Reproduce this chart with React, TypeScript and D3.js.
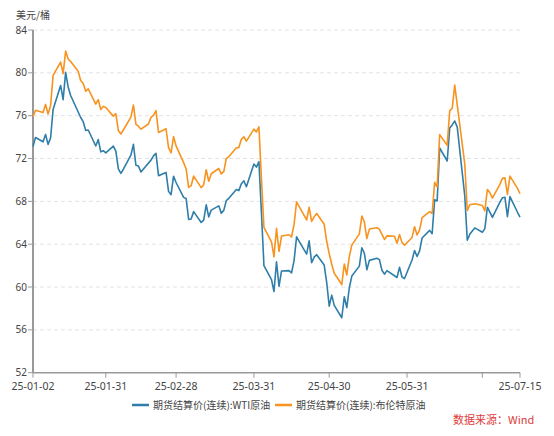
import { useEffect } from "react"
import * as d3 from "d3"

// trading days of 2025 (MM-DD)
const dates = [
  "01-02", "01-03", "01-06", "01-07", "01-08", "01-09", "01-10", "01-13", "01-14", "01-15", "01-16",
  "01-17", "01-20", "01-21", "01-22", "01-23", "01-24", "01-27", "01-28", "01-29", "01-30", "01-31",
  "02-03", "02-04", "02-05", "02-06", "02-07", "02-10", "02-11", "02-12", "02-13", "02-14", "02-17",
  "02-18", "02-19", "02-20", "02-21", "02-24", "02-25", "02-26", "02-27", "02-28",
  "03-03", "03-04", "03-05", "03-06", "03-07", "03-10", "03-11", "03-12", "03-13", "03-14", "03-17",
  "03-18", "03-19", "03-20", "03-21", "03-24", "03-25", "03-26", "03-27", "03-28", "03-31",
  "04-01", "04-02", "04-03", "04-04", "04-07", "04-08", "04-09", "04-10", "04-11", "04-14", "04-15",
  "04-16", "04-17", "04-21", "04-22", "04-23", "04-24", "04-25", "04-28", "04-29", "04-30",
  "05-01", "05-02", "05-05", "05-06", "05-07", "05-08", "05-09", "05-12", "05-13", "05-14", "05-15",
  "05-16", "05-19", "05-20", "05-21", "05-22", "05-23", "05-26", "05-27", "05-28", "05-29", "05-30",
  "06-02", "06-03", "06-04", "06-05", "06-06", "06-09", "06-10", "06-11", "06-12", "06-13", "06-16",
  "06-17", "06-18", "06-19", "06-20", "06-23", "06-24", "06-25", "06-26", "06-27", "06-30",
  "07-01", "07-02", "07-03", "07-04", "07-07", "07-08", "07-09", "07-10", "07-11", "07-14", "07-15",
]

const wti: (number | null)[] = [
  73.13, 73.96, 73.56, 74.25, 73.32, 73.92, 76.57, 78.82, 77.5, 80.04, 78.68,
  77.88, null, 75.83, 75.44, 74.62, 74.66, 73.17, 73.77, 72.62, 72.73, 72.53,
  73.16, 72.7, 71.03, 70.61, 71.0, 72.32, 73.32, 71.37, 71.29, 70.74, null,
  71.85, 72.25, 72.48, 70.4, 70.7, 68.93, 68.62, 70.35, 69.76,
  68.37, 68.26, 66.31, 66.36, 67.04, 66.03, 66.25, 67.68, 66.55, 67.18, 67.58,
  66.9, 67.16, 68.07, 68.28, 69.11, 69.0, 69.65, 69.92, 69.36, 71.48,
  71.2, 71.71, 66.95, 61.99, 60.7, 59.58, 62.35, 60.07, 61.5, 61.53, 61.33,
  62.47, 64.68, 63.08, 64.31, 62.27, 62.79, 63.02, 62.05, 60.42, 58.21,
  59.24, 58.29, 57.13, 59.09, 58.07, 59.91, 61.02, 61.95, 63.67, 63.15, 61.62,
  62.49, 62.69, 62.56, 61.57, 61.2, 61.53, null, 60.89, 61.84, 60.94, 60.79,
  62.52, 63.41, 62.85, 63.37, 64.58, 65.29, 64.98, 68.15, 68.04, 72.98, 71.77,
  74.84, 75.14, 75.5, 74.93, 68.51, 64.37, 64.92, 65.24, 65.52, 65.11,
  65.45, 67.45, 67.0, 66.5, 67.93, 68.33, 68.38, 66.57, 68.45, 66.98, 66.52,
]

const brent: (number | null)[] = [
  75.93, 76.51, 76.3, 77.05, 76.16, 76.92, 79.76, 81.01, 79.92, 82.03, 81.29,
  81.05, 80.15, 79.29, 79.0, 78.29, 78.5, 77.08, 77.49, 76.58, 76.87, 76.76,
  75.96, 76.2, 74.61, 74.29, 74.66, 75.87, 77.0, 75.18, 75.02, 74.74, 75.22,
  75.84, 76.04, 76.48, 74.43, 74.78, 73.02, 72.53, 74.04, 73.18,
  71.62, 71.04, 69.3, 69.46, 70.36, 69.28, 69.56, 70.95, 69.88, 70.58, 71.07,
  70.56, 70.78, 72.0, 72.16, 73.0, 73.02, 73.79, 74.03, 73.63, 74.74,
  74.49, 74.95, 70.14, 65.58, 64.21, 62.82, 65.48, 63.33, 64.76, 64.88, 64.67,
  65.85, 67.96, 66.26, 67.44, 66.12, 66.55, 66.87, 65.86, 64.25, 63.12,
  62.13, 61.29, 60.23, 62.15, 61.12, 62.84, 63.91, 64.96, 66.63, 66.09, 64.53,
  65.41, 65.54, 65.38, 64.91, 64.44, 64.78, 64.74, 64.09, 64.9, 64.15, 63.9,
  64.63, 65.63, 64.86, 65.34, 66.47, 67.04, 66.87, 69.77, 69.36, 74.23, 73.23,
  76.45, 76.7, 78.85, 77.01, 71.48, 67.14, 67.68, 67.73, 67.77, 67.61,
  67.11, 69.11, 68.8, 68.3, 69.58, 70.15, 70.19, 68.64, 70.36, 69.21, 68.71,
]

const yTicks = [52, 56, 60, 64, 68, 72, 76, 80, 84]
const xTickDates = ["01-02", "01-31", "02-28", "03-31", "04-30", "05-31", "06-30", "07-15"]
const xTickLabels = ["25-01-02", "25-01-31", "25-02-28", "25-03-31", "25-04-30", "25-05-31", "", "25-07-15"]

const seriesNames = ["期货结算价(连续):WTI原油", "期货结算价(连续):布伦特原油"]
const colors = ["#2f7eaa", "#f7931e"]

const W = 554
const H = 436
const left = 33
const right = 520
const top = 30
const bottom = 372.7
const font = "'Noto Sans CJK SC', 'Noto Sans', sans-serif"
const numFont = "'Noto Sans', 'Noto Sans CJK SC', sans-serif"

const parse = (md: string) => new Date(`2025-${md}T00:00:00`)

export default function App() {
  useEffect(() => {
    document.body.style.margin = "0"
  }, [])

  const x = d3.scaleTime().domain([parse("01-02"), parse("07-15")]).range([left, right])
  const y = d3.scaleLinear().domain([52, 84]).range([bottom, top])

  const makePath = (vals: (number | null)[]) => {
    const pts = dates
      .map((d, i) => ({ date: parse(d), v: vals[i] }))
      .filter((p) => p.v != null) as { date: Date; v: number }[]
    return (
      d3
        .line<{ date: Date; v: number }>()
        .x((p) => x(p.date))
        .y((p) => y(p.v))(pts) ?? ""
    )
  }

  const series = [wti, brent]

  return (
    <svg width={W} height={H} style={{ display: "block", background: "#fff" }} fontFamily={font}>
      {/* unit label */}
      <text x={16} y={19} fontSize={10} fill="#444">
        美元/桶
      </text>

      {/* grid + y ticks */}
      {yTicks.map((t) => (
        <g key={t}>
          {t !== 52 && (
            <line
              x1={left}
              x2={right}
              y1={y(t)}
              y2={y(t)}
              stroke="#e2e2e2"
              strokeWidth={1}
              strokeDasharray="4 3"
            />
          )}
          <line x1={left - 5} x2={left} y1={y(t)} y2={y(t)} stroke="#999" strokeWidth={1} />
          <text
            x={left - 6}
            y={y(t)}
            dy="0.35em"
            textAnchor="end"
            fontSize={10}
            fontFamily={numFont}
            fill="#444"
          >
            {t}
          </text>
        </g>
      ))}

      {/* axes */}
      <line x1={left} x2={left} y1={top} y2={bottom} stroke="#999" strokeWidth={2} />
      <line x1={left} x2={right} y1={bottom} y2={bottom} stroke="#999" strokeWidth={1.5} />

      {xTickDates.map((d, i) => (
        <g key={d}>
          <line x1={x(parse(d))} x2={x(parse(d))} y1={bottom} y2={bottom + 5} stroke="#999" strokeWidth={1} />
          {xTickLabels[i] && (
            <text
              x={x(parse(d))}
              y={bottom + 17.3}
              textAnchor="middle"
              fontSize={10.5}
              fontFamily={numFont}
              fill="#444"
            >
              {xTickLabels[i]}
            </text>
          )}
        </g>
      ))}

      {/* lines */}
      {series.map((s, i) => (
        <path key={i} d={makePath(s)} fill="none" stroke={colors[i]} strokeWidth={1.6} strokeLinejoin="round" />
      ))}

      {/* legend */}
      {seriesNames.map((name, i) => {
        const lx = i === 0 ? 132 : 275
        return (
          <g key={name}>
            <line x1={lx} x2={lx + 17} y1={405} y2={405} stroke={colors[i]} strokeWidth={2.5} />
            <text x={lx + 21} y={405} dy="0.35em" fontSize={10} fill="#444">
              {name}
            </text>
          </g>
        )
      })}

      <text x={453} y={420} dy="0.35em" fontSize={11} fill="#e03a3a">
        数据来源：Wind
      </text>
    </svg>
  )
}
